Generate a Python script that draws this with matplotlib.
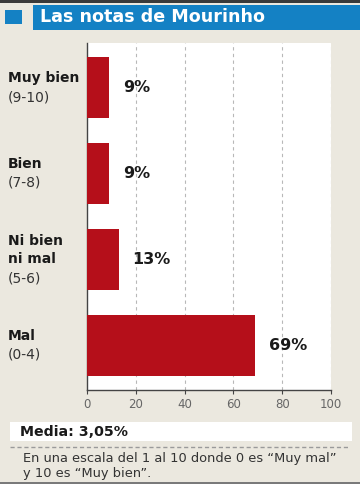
import matplotlib
matplotlib.use("Agg")
import matplotlib.pyplot as plt
from matplotlib.patches import Rectangle
from matplotlib.lines import Line2D
import matplotlib.transforms as mtransforms

# data
categories = ["Mal", "Ni bien\nni mal", "Bien", "Muy bien"]
ranges = ["(0-4)", "(5-6)", "(7-8)", "(9-10)"]
values = [69, 13, 9, 9]
value_labels = ["69%", "13%", "9%", "9%"]
x_ticks = [0, 20, 40, 60, 80, 100]
title = "Las notas de Mourinho"
media_text = "Media: 3,05%"
note_text = "En una escala del 1 al 10 donde 0 es \u201cMuy mal\u201d\ny 10 es \u201cMuy bien\u201d."

W, H = 360, 484
BG = "#ebe8df"
BLUE = "#1481c4"
RED = "#b50f1a"


def fx(px):
    return px / W


def fy(py):
    return 1 - py / H


fig = plt.figure(figsize=(W / 100, H / 100), dpi=100, facecolor=BG)

# top border and title bar
fig.patches.append(Rectangle((0, fy(3)), 1, 3 / H, transform=fig.transFigure,
                             facecolor="#3a3a3a", edgecolor="none"))
fig.patches.append(Rectangle((fx(5), fy(24)), 17 / W, 14 / H, transform=fig.transFigure,
                             facecolor=BLUE, edgecolor="none"))
fig.patches.append(Rectangle((fx(33), fy(30)), 1 - fx(33), 25 / H, transform=fig.transFigure,
                             facecolor=BLUE, edgecolor="none"))
fig.text(fx(40), fy(17.5), title, color="white", fontsize=12.6, fontweight="bold",
         va="center", ha="left")

# main plot
ax = fig.add_axes([fx(87), fy(390), fx(331) - fx(87), (390 - 43) / H])
ax.set_facecolor("white")
y = list(range(len(categories)))
ax.barh(y, values, height=0.71, color=RED, zorder=3)
ax.set_xlim(0, 100)
ax.set_ylim(-0.52, 3.52)
ax.set_xticks(x_ticks)
ax.set_xticklabels([str(t) for t in x_ticks], color="#666666", fontsize=8.5)
ax.set_yticks([])
for t in x_ticks[1:]:
    ax.axvline(t, color="#b8b8b8", lw=0.8, ls=(0, (3, 3)), zorder=1)
for s in ["top", "right"]:
    ax.spines[s].set_visible(False)
for s in ["left", "bottom"]:
    ax.spines[s].set_color("#444444")
    ax.spines[s].set_linewidth(1.0)
ax.tick_params(axis="x", length=3, color="#444444", pad=3)

for yi, v, lab in zip(y, values, value_labels):
    ax.annotate(lab, (v, yi), xytext=(10, 0), textcoords="offset points",
                fontsize=11.5, fontweight="bold", color="#1a1a1a", va="center", ha="left")

# category labels on the left
trans = mtransforms.blended_transform_factory(fig.transFigure, ax.transData)
for yi, cat, rng in zip(y, categories, ranges):
    lines = cat.split("\n") + [rng]
    n = len(lines)
    for i, line in enumerate(lines):
        off = -(i - (n - 1) / 2) * 13.5
        bold = i < n - 1
        ax.annotate(line, (fx(8), yi), xycoords=trans, xytext=(0, off),
                    textcoords="offset points", ha="left", va="center",
                    fontsize=10, fontweight="bold" if bold else "normal",
                    color="#1a1a1a" if bold else "#333333", annotation_clip=False)

# media box
fig.patches.append(Rectangle((fx(10), fy(441)), (352 - 10) / W, 19 / H, transform=fig.transFigure,
                             facecolor="white", edgecolor="none"))
fig.text(fx(20), fy(431.5), media_text, fontsize=10.2, fontweight="bold", color="#1a1a1a",
         va="center", ha="left")
fig.lines.append(Line2D([fx(10), fx(350)], [fy(447), fy(447)], transform=fig.transFigure,
                        color="#9a9a9a", lw=1, ls=(0, (3, 2))))
fig.text(fx(23), fy(466), note_text, fontsize=9.4, color="#333333",
         va="center", ha="left", linespacing=1.15)

# bottom border
fig.patches.append(Rectangle((0, 0), 1, 2 / H, transform=fig.transFigure,
                             facecolor="#7a7a7a", edgecolor="none"))

fig.savefig("out.png", dpi=100, facecolor=BG)
